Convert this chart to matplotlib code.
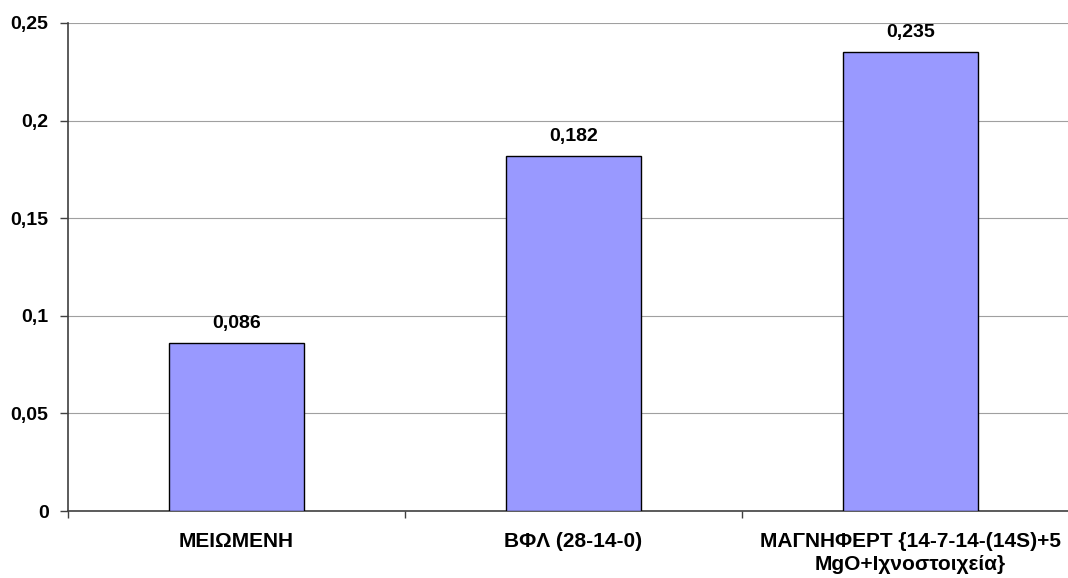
import matplotlib

matplotlib.use("Agg")
import matplotlib.pyplot as plt
from matplotlib.ticker import FixedLocator, FuncFormatter

plt.rcParams["font.family"] = ["Liberation Sans", "DejaVu Sans"]

CATEGORIES = ["ΜΕΙΩΜΕΝΗ", "ΒΦΛ (28-14-0)", "ΜΑΓΝΗΦΕΡΤ {14-7-14-(14S)+5\nMgO+Ιχνοστοιχεία}"]
VALUES = [0.086, 0.182, 0.235]
Y_TICKS = [0, 0.05, 0.1, 0.15, 0.2, 0.25]

BAR, AXIS, GRID = "#9999FF", "#404040", "#a0a0a0"


def comma(v, _=None):
    s = f"{v:.3f}".rstrip("0").rstrip(".")
    return s.replace(".", ",")


fig = plt.figure(figsize=(10.68, 5.78), dpi=100)
# plot area runs slightly past the right edge of the image, as in the original
ax = fig.add_axes([68 / 1068, 67 / 578, 1011 / 1068, 488 / 578])

x = range(len(CATEGORIES))
ax.bar(x, VALUES, width=0.40, color=BAR, edgecolor="black", linewidth=1, zorder=3)
for xi, v in zip(x, VALUES):
    ax.annotate(comma(v), (xi, v), xytext=(0, 8), textcoords="offset points",
                ha="center", va="bottom", fontsize=14, weight="bold")

ax.set_xlim(-0.5, len(CATEGORIES) - 0.5)
ax.set_ylim(0, 0.25)
ax.yaxis.set_major_locator(FixedLocator(Y_TICKS))
ax.yaxis.set_major_formatter(FuncFormatter(comma))
ax.grid(axis="y", color=GRID, lw=0.8, zorder=0)

# category labels centred, ticks at category boundaries
ax.set_xticks(list(x))
ax.set_xticklabels(CATEGORIES, fontsize=15, weight="bold", linespacing=1.3)
ax.tick_params(axis="x", length=0, pad=15)
ax.set_xticks([-0.5, 0.5, 1.5, 2.5], minor=True)
ax.tick_params(axis="x", which="minor", length=5, color=AXIS, width=1)
ax.tick_params(axis="y", length=6, color=AXIS, width=1, labelsize=14, pad=8)
for lbl in ax.get_yticklabels():
    lbl.set_fontweight("bold")

for s in ("top", "right"):
    ax.spines[s].set_visible(False)
for s in ("left", "bottom"):
    ax.spines[s].set_color(AXIS)
    ax.spines[s].set_linewidth(1.2)

fig.savefig("out.png", facecolor="white")
